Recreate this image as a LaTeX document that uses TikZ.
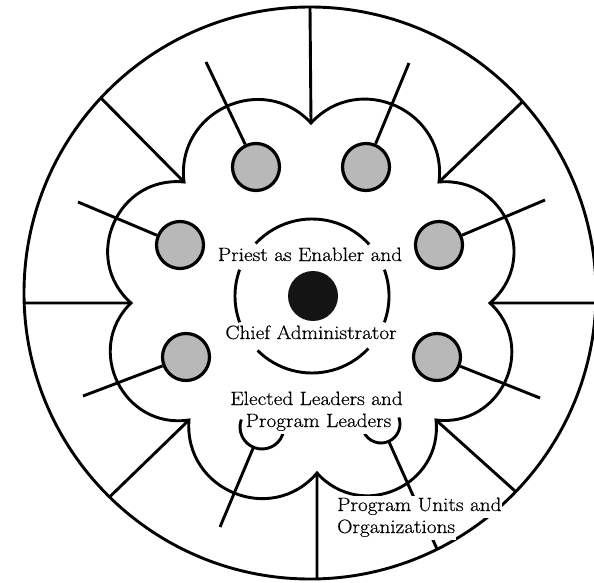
\documentclass[tikz,border=0pt]{standalone}
\usepackage{fontspec}
\setmainfont{Latin Modern Roman}[FakeStretch=1.1, FakeBold=0.5]
\usetikzlibrary{calc}
\begin{document}
\begin{tikzpicture}[x=1pt,y=1pt,
  ln/.style={line width=2.9pt},
  lobe/.style={bend right=72, looseness=1.3},
  member/.style={circle, draw, line width=3.2pt, fill=black!28, minimum size=47pt, inner sep=0pt},
  cup/.style={circle, minimum size=#1, inner sep=0pt},
  lbl/.style={font=\fontsize{19.3}{22}\selectfont, inner sep=0pt},
  mask/.style={font=\fontsize{19.3}{22}\selectfont, fill=white, text height=14pt, text depth=5pt, inner xsep=1pt, inner ysep=1.5pt}
]
\useasboundingbox (0,0) rectangle (594,582);
\clip (0,0) rectangle (594,582);
% centres
\coordinate (O) at (310,289);
\coordinate (C) at (312,286);
% outer circle
\draw[ln] (O) circle[radius=286];
% cusps of the flower
\coordinate (k1) at (490,279);
\coordinate (k2) at (439,400);
\coordinate (k3) at (311,459);
\coordinate (k4) at (184,400);
\coordinate (k5) at (131,279);
\coordinate (k6) at (189,162);
\coordinate (k7) at (317,109);
\coordinate (k8) at (436,162);
\draw[ln] (k1) to[lobe] (k2) to[lobe] (k3) to[lobe] (k4) to[lobe] (k5)
  to[lobe] (k6) to[lobe] (k7) to[lobe] (k8) to[lobe] cycle;
% spokes
\foreach \i/\a in {1/358,2/42,3/90,4/137,5/182,6/225.5,7/271.4,8/316}{
  \coordinate (r\i) at ($(O)+(\a:286)$);
  \draw[ln] (k\i) -- (r\i);
}
% central ring (broken)
\draw[ln] ([shift={(42:77)}]C) arc[start angle=42, end angle=137, radius=77];
\draw[ln] ([shift={(160:77)}]C) arc[start angle=160, end angle=200, radius=77];
\draw[ln] ([shift={(-20:77)}]C) arc[start angle=-20, end angle=20, radius=77];
\draw[ln] ([shift={(225:77)}]C) arc[start angle=225, end angle=317, radius=77];
% priest
\node[circle, fill=black!92, minimum size=50pt, inner sep=0pt] (priest) at (313,286) {};
% member circles and their lines
\coordinate (e1) at (206,520);
\coordinate (e2) at (409,519);
\coordinate (e3) at (78,380);
\coordinate (e4) at (545,382);
\coordinate (e5) at (83,186);
\coordinate (e6) at (540,184);
\node[member] (g1) at (256,415) {};
\node[member] (g2) at (366,415) {};
\node[member] (g3) at (180,337) {};
\node[member] (g4) at (439,337) {};
\node[member] (g5) at (186,225) {};
\node[member] (g6) at (437,225) {};
\foreach \i in {1,...,6}{ \draw[ln] (g\i) -- (e\i); }
% cups
\node[cup=44pt] (cupL) at (262,155) {};
\node[cup=38pt] (cupR) at (381,158) {};
\draw[ln] ([shift={(160:22)}]cupL.center) arc[start angle=160, end angle=380, radius=22];
\draw[ln] ([shift={(160:19)}]cupR.center) arc[start angle=160, end angle=380, radius=19];
\coordinate (eL) at (220,55);
\coordinate (eR) at (437,33);
\draw[ln] (cupL) -- (eL);
\draw[ln] (cupR) -- (eR);
% labels
\node[lbl, anchor=base] (t1) at (310,321) {Priest as Enabler and};
\node[lbl, anchor=base] (t2) at (311,243) {Chief Administrator};
\node[lbl, anchor=base] (t3) at (316.5,177) {Elected Leaders and};
\node[mask, anchor=base] (t4) at (318.5,155) {Program Leaders};
\node[mask, anchor=base west] (t5) at (336,71) {Program Units and};
\node[mask, anchor=base west] (t6) at (336,49) {Organizations};
\end{tikzpicture}
\end{document}
